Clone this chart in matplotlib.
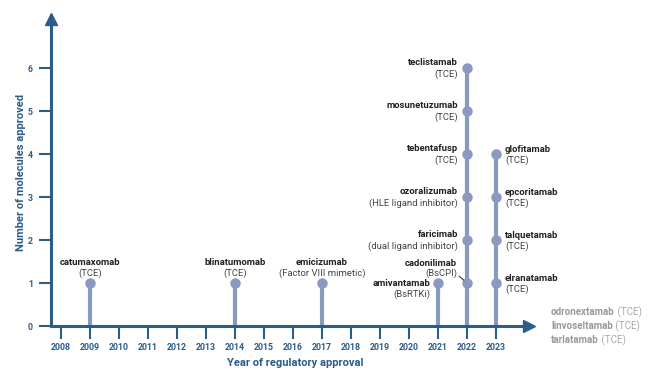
import matplotlib.pyplot as plt

plt.rcParams['font.family'] = ['Roboto', 'DejaVu Sans']

# approved molecules: name, class, year, position in that year's stack
names = ["catumaxomab", "blinatumomab", "emicizumab", "amivantamab", "cadonilimab",
         "faricimab", "ozoralizumab", "tebentafusp", "mosunetuzumab", "teclistamab",
         "elranatamab", "talquetamab", "epcoritamab", "glofitamab"]
classes = ["(TCE)", "(TCE)", "(Factor VIII mimetic)", "(BsRTKi)", "(BsCPI)",
           "(dual ligand inhibitor)", "(HLE ligand inhibitor)", "(TCE)", "(TCE)", "(TCE)",
           "(TCE)", "(TCE)", "(TCE)", "(TCE)"]
years = [2009, 2014, 2017, 2021, 2022, 2022, 2022, 2022, 2022, 2022, 2023, 2023, 2023, 2023]
levels = [1, 1, 1, 1, 1, 2, 3, 4, 5, 6, 1, 2, 3, 4]

pending = ["odronextamab", "linvoseltamab", "tarlatamab"]
pending_class = ["(TCE)", "(TCE)", "(TCE)"]

year_ticks = list(range(2008, 2024))
count_ticks = list(range(0, 7))

axis_col = "#2b5c8a"
stem_col = "#8a99be"
text_col = "#222222"

fig = plt.figure(figsize=(6.5, 3.73), dpi=100)
ax = fig.add_axes([51 / 650, 47 / 373, 478 / 650, 307 / 373])
ax.set_xlim(2007.655, 2024.138)
ax.set_ylim(0, 7.14)

for s in ["top", "right"]:
    ax.spines[s].set_visible(False)
for s in ["left", "bottom"]:
    ax.spines[s].set_color(axis_col)
    ax.spines[s].set_linewidth(2.2)
    ax.spines[s].set_zorder(4)
ax.plot(1, 0, ">", ms=9, color=axis_col, transform=ax.transAxes, clip_on=False, zorder=5)
ax.plot(0, 1, "^", ms=9, color=axis_col, transform=ax.transAxes, clip_on=False, zorder=5)

# stems: one per year up to the highest count
stem_top = {}
for y, l in zip(years, levels):
    stem_top[y] = max(stem_top.get(y, 0), l)
ax.vlines(list(stem_top.keys()), 0, list(stem_top.values()), color=stem_col, lw=3, zorder=2)
ax.plot(years, levels, "o", color=stem_col, ms=6.5, zorder=3, clip_on=False)

ax.set_xticks(year_ticks)
ax.set_yticks(count_ticks)
ax.tick_params(axis="x", length=9, width=1.5, color=axis_col, pad=3,
               labelsize=6.3, labelcolor=axis_col)
ax.tick_params(axis="y", length=9, width=1.5, color=axis_col, pad=4,
               labelsize=6.3, labelcolor=axis_col)
for lab in ax.get_xticklabels() + ax.get_yticklabels():
    lab.set_fontweight("bold")

ax.set_xlabel("Year of regulatory approval", fontsize=8, fontweight="bold",
              color=axis_col)
ax.xaxis.set_label_coords(0.51, -0.105)
ax.set_ylabel("Number of molecules approved", fontsize=8, fontweight="bold",
              color=axis_col)
ax.yaxis.set_label_coords(-0.053, 0.5)

# label placement (offset pixels: dx, name dy, class dy, align)
place = {"above": (0, 21, 10, "center"),
         "left": (-9, 6, -6, "right"),
         "right": (9, 5, -6, "left"),
         "low": (-8, 0, -11, "right"),
         "callout": (-10, 20, 10, "right")}

def where(name, year):
    if name == "amivantamab":
        return "low"
    if name == "cadonilimab":
        return "callout"
    if year == 2022:
        return "left"
    if year == 2023:
        return "right"
    return "above"

for n, c, y, l in zip(names, classes, years, levels):
    dx, dn, dc, ha = place[where(n, y)]
    ax.annotate(n, (y, l), xytext=(dx, dn), textcoords="offset pixels", ha=ha,
                va="center", fontsize=6.8, fontweight="bold", color=text_col)
    ax.annotate(c, (y, l), xytext=(dx, dc), textcoords="offset pixels", ha=ha,
                va="center", fontsize=6.8, color="#444444")
    if n == "cadonilimab":
        ax.annotate("", (y, l), xytext=(-8, 7), textcoords="offset pixels",
                    arrowprops=dict(arrowstyle="-", color=text_col, lw=0.7,
                                    shrinkA=0, shrinkB=3))

for i, (n, c) in enumerate(zip(pending, pending_class)):
    t = ax.annotate(n, (1, 0), xycoords="axes fraction", xytext=(22, 14 - 14 * i),
                    textcoords="offset pixels", ha="left", va="center",
                    fontsize=7, fontweight="bold", color="#9a9a9a")
    ax.annotate(" " + c, (1, 0.5), xycoords=t, ha="left", va="center",
                fontsize=7, color="#aaaaaa")

fig.savefig("out.png", dpi=100)
